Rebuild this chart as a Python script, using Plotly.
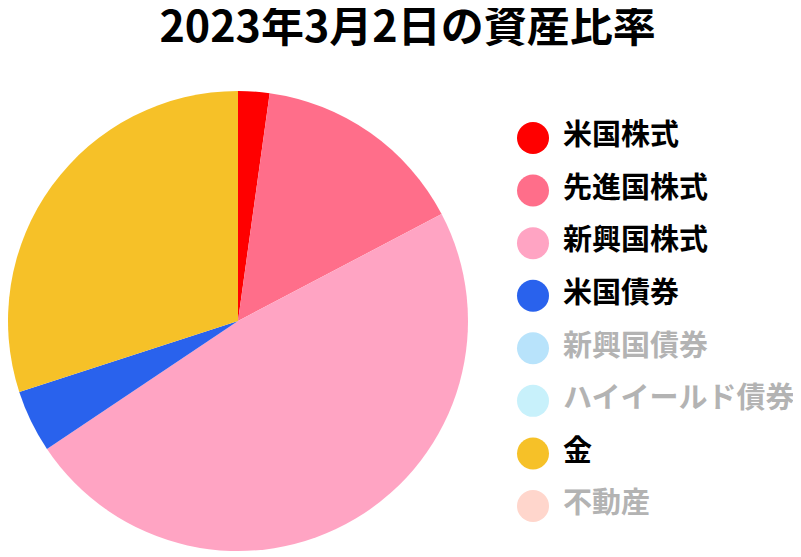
import plotly.graph_objects as go

# 資産カテゴリと比率 (%)
labels = ['米国株式', '先進国株式', '新興国株式', '米国債券',
          '新興国債券', 'ハイイールド債券', '金', '不動産']
values = [2.2, 15.1, 48.3, 4.4, 0, 0, 30.0, 0]
colors = ['#ff0000', '#ff6e8a', '#ffa4c3', '#2962ed',
          '#b8e3fb', '#c8f1fb', '#f6c128', '#ffd6cc']
# 凡例で非表示になっている項目
hidden = ['新興国債券', 'ハイイールド債券', '不動産']

FONT = 'Noto Sans CJK JP'
W, H = 801, 557
text_colors = ['#b3b3b3' if l in hidden else '#000000' for l in labels]

fig = go.Figure()

fig.add_trace(go.Pie(
    labels=labels,
    values=values,
    marker=dict(colors=colors, line=dict(width=0)),
    sort=False,
    direction='clockwise',
    rotation=0,
    textinfo='none',
    showlegend=False,
    domain=dict(x=[0, 460 / W], y=[14 / H, 474 / H]),
    hovertemplate='%{label}: %{value}%<extra></extra>'
))

# 凡例 (丸マーカー + ラベル)
fig.add_trace(go.Scatter(
    x=[0] * len(labels),
    y=labels,
    mode='markers',
    marker=dict(size=32, color=colors, line=dict(width=0)),
    showlegend=False,
    hoverinfo='skip'
))
fig.add_trace(go.Scatter(
    x=[1.0] * len(labels),
    y=labels,
    mode='text',
    text=labels,
    textposition='middle right',
    textfont=dict(family=FONT, size=29, color=text_colors, weight='bold'),
    showlegend=False,
    hoverinfo='skip'
))

fig.update_layout(
    width=W,
    height=H,
    margin=dict(l=0, r=0, t=0, b=0),
    paper_bgcolor='white',
    plot_bgcolor='white',
    title=dict(
        text='2023年3月2日の資産比率',
        x=0.4988, xanchor='center',
        y=1 - 19 / H, yanchor='middle', yref='container',
        font=dict(family=FONT, size=43, color='#000000', weight='bold')
    ),
    xaxis=dict(domain=[495 / W, 1], range=[-1, 9.2],
               visible=False, fixedrange=True),
    yaxis=dict(domain=[32.7 / H, 453.3 / H], range=[7.5, -0.5],
               type='category', categoryorder='array', categoryarray=labels,
               visible=False, fixedrange=True),
    font=dict(family=FONT)
)

fig.write_html('out.html')
